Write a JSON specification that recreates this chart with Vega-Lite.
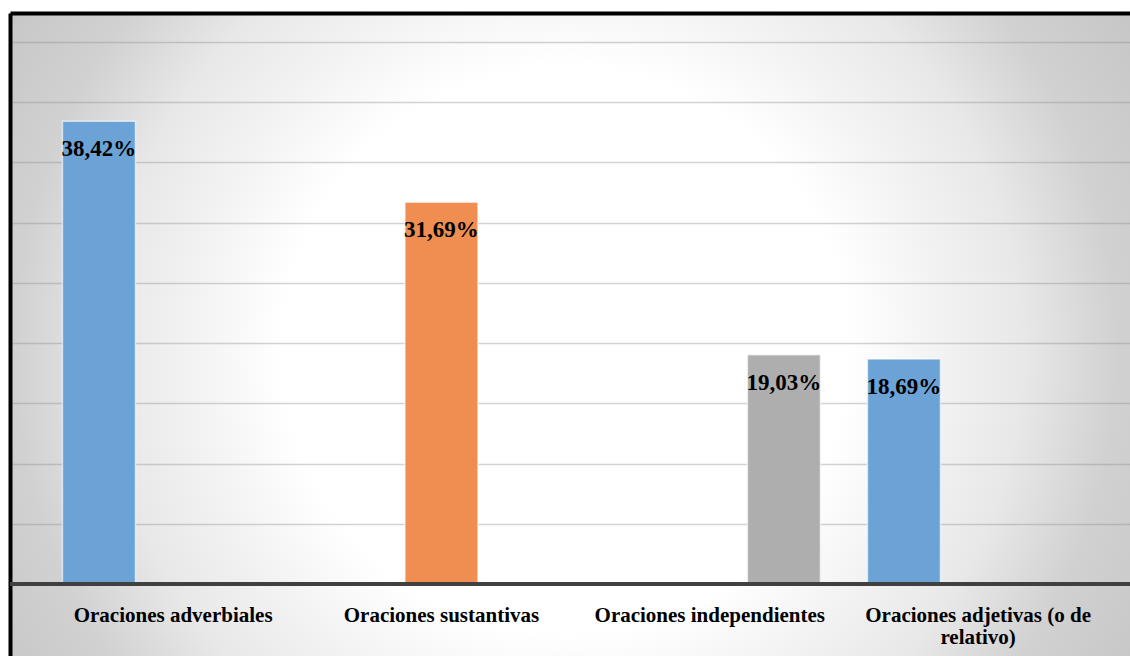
{
  "$schema": "https://vega.github.io/schema/vega-lite/v6.json",
  "width": 1120,
  "height": 643,
  "autosize": {"type": "none"},
  "padding": {"left": 10, "top": 13, "right": 0, "bottom": 0},
  "background": "#ffffff",
  "config": {
    "locale": {
      "number": {"decimal": ",", "thousands": ".", "grouping": [3], "currency": ["", " €"]}
    },
    "view": {
      "stroke": null,
      "fill": {
        "gradient": "radial",
        "x1": 0.496, "y1": 0.514, "r1": 0,
        "x2": 0.496, "y2": 0.514, "r2": 0.6,
        "stops": [
          {"offset": 0, "color": "#ffffff"},
          {"offset": 0.42, "color": "#ffffff"},
          {"offset": 0.55, "color": "#f3f3f3"},
          {"offset": 0.68, "color": "#e8e8e8"},
          {"offset": 0.82, "color": "#d1d1d1"},
          {"offset": 1, "color": "#c5c5c5"}
        ]
      }
    }
  },
  "data": {
    "values": [
      {"categoria": "Oraciones adverbiales", "serie": "Serie 1", "porcentaje": 0.3842},
      {"categoria": "Oraciones sustantivas", "serie": "Serie 2", "porcentaje": 0.3169},
      {"categoria": "Oraciones independientes", "serie": "Serie 3", "porcentaje": 0.1903},
      {"categoria": "Oraciones adjetivas (o de relativo)", "serie": "Serie 1", "porcentaje": 0.1869}
    ]
  },
  "layer": [
    {
      "mark": {"type": "bar", "stroke": "#ffffff", "strokeOpacity": 0.6, "strokeWidth": 1.5},
      "encoding": {
        "x": {
          "field": "categoria",
          "type": "nominal",
          "sort": null,
          "scale": {"paddingInner": 0, "paddingOuter": 0.087, "align": 0.62},
          "axis": {
            "title": null,
            "orient": "bottom",
            "domain": false,
            "ticks": false,
            "grid": false,
            "offset": -35,
            "labelPadding": 0,
            "labelAngle": 0,
            "labelFont": "Liberation Serif",
            "labelFontWeight": "bold",
            "labelFontSize": 21,
            "labelColor": "#000000",
            "labelBaseline": "alphabetic",
            "labelLineHeight": 22,
            "labelLimit": 0,
            "labelOverlap": false,
            "labelBound": false,
            "labelFlush": false,
            "labelExpr": "datum.label == 'Oraciones adjetivas (o de relativo)' ? ['Oraciones adjetivas (o de', 'relativo)'] : datum.label"
          }
        },
        "xOffset": {
          "field": "serie",
          "type": "nominal",
          "scale": {"paddingInner": 0.0155, "paddingOuter": 0.317}
        },
        "y": {
          "field": "porcentaje",
          "type": "quantitative",
          "scale": {"domain": [-0.05978, 0.47408], "nice": false, "zero": false},
          "axis": {
            "title": null,
            "labels": false,
            "ticks": false,
            "domain": true,
            "domainColor": "#000000",
            "domainWidth": 4,
            "grid": true,
            "values": [0.05, 0.1, 0.15, 0.2, 0.25, 0.3, 0.35, 0.4, 0.45, 0.47408],
            "gridColor": {"expr": "datum.value > 0.46 ? '#000000' : '#8c8c8c'"},
            "gridWidth": {"expr": "datum.value > 0.46 ? 4 : 1.5"},
            "gridOpacity": {"expr": "datum.value > 0.46 ? 1 : 0.38"}
          }
        },
        "color": {
          "field": "serie",
          "type": "nominal",
          "scale": {"domain": ["Serie 1", "Serie 2", "Serie 3"], "range": ["#6ca3d7", "#ef8e50", "#aeaeae"]},
          "legend": null
        }
      }
    },
    {
      "mark": {
        "type": "text",
        "font": "Liberation Serif",
        "fontWeight": "bold",
        "fontSize": 23,
        "color": "#000000",
        "align": "center",
        "baseline": "alphabetic",
        "dy": 35
      },
      "encoding": {
        "x": {"field": "categoria", "type": "nominal", "sort": null},
        "xOffset": {"field": "serie", "type": "nominal"},
        "y": {"field": "porcentaje", "type": "quantitative"},
        "text": {"field": "porcentaje", "type": "quantitative", "format": ".2%"}
      }
    },
    {
      "mark": {"type": "rule", "color": "#404040", "strokeWidth": 3.5},
      "encoding": {"y": {"datum": 0}}
    }
  ]
}
